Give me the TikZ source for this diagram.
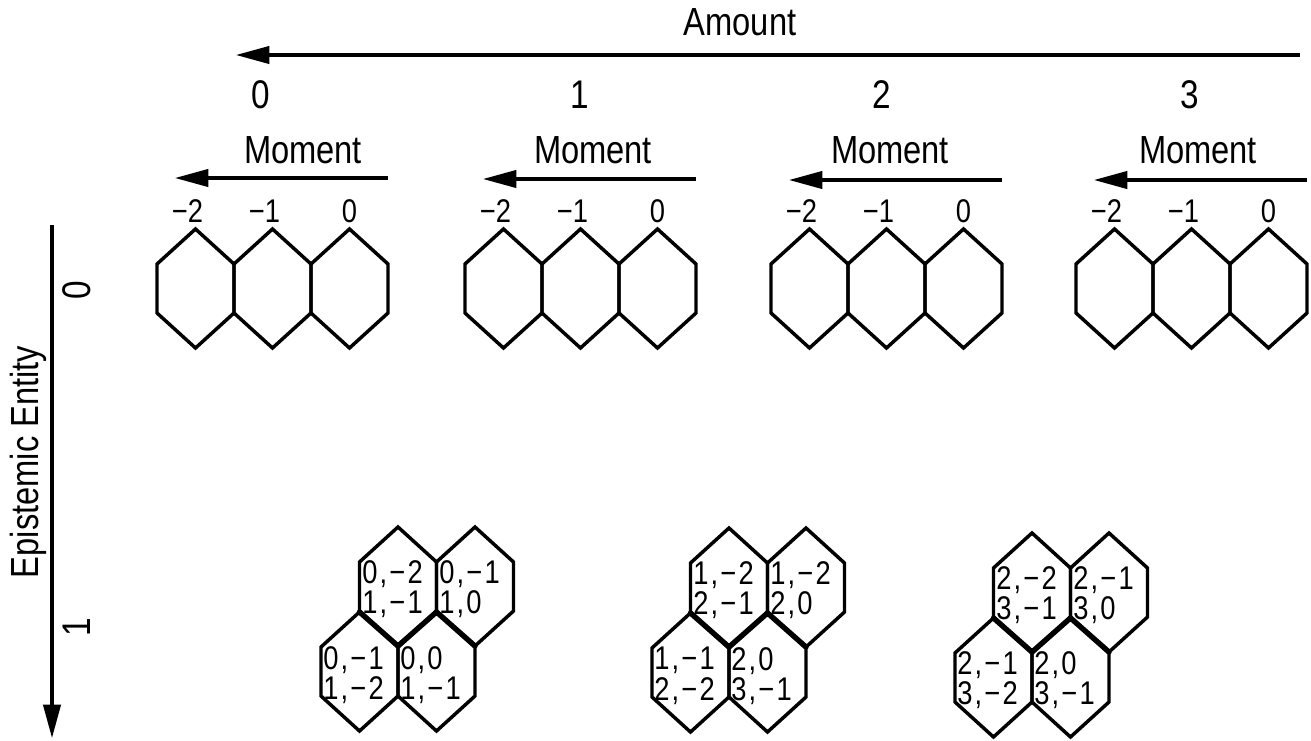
\documentclass[tikz,border=0pt]{standalone}
\usepackage{graphicx}
\usepackage{fontspec}
\setmainfont{Liberation Sans}
\usetikzlibrary{arrows.meta}
\newcommand\tl[1]{\scalebox{1}[1.2]{#1}}
\tikzset{
  hexline/.style={line width=2.6pt, line join=miter},
  thickedge/.style={line width=4pt, line cap=round},
  axisarrow/.style={line width=2.3pt, -{Triangle[length=25pt,width=13pt]}},
  momarrow/.style={line width=2.3pt, -{Triangle[length=25pt,width=13pt]}},
  bigtxt/.style={font=\fontsize{24.5}{26}\selectfont, inner sep=0pt},
  numtxt/.style={font=\fontsize{25}{26}\selectfont, inner sep=0pt},
  ticktxt/.style={font=\fontsize{20.5}{22}\selectfont, inner sep=0pt, anchor=base},
  celltxt/.style={font=\fontsize{20.5}{23}\selectfont\addfontfeature{LetterSpace=8}, inner sep=0pt, align=left, anchor=west},
}
\newcommand\myhex[2]{\draw[hexline] (#1,#2) -- ++(38.5,35) -- ++(0,49) -- ++(-38.5,35) -- ++(-38.5,-35) -- ++(0,-49) -- cycle;}
\newcommand\mygroup[4]{%
  \myhex{#1+38.5}{229}\myhex{#1+115.5}{229}\myhex{#1+192.5}{229}
  \coordinate (ms#4) at (#1+231,#2);
  \coordinate (me#4) at (#1+18,#2);
  \draw[momarrow] (ms#4) -- (me#4);
  \node[bigtxt, anchor=base] (mt#4) at (#3,163) {\tl{Moment}};
  \node[ticktxt] (ta#4) at (#1+38.5,222) {\tl{\llap{−}2}};
  \node[ticktxt] (tb#4) at (#1+115.5,222) {\tl{\llap{−}1}};
  \node[ticktxt] (tc#4) at (#1+192.5,222) {\tl{0}};
}
\newcommand\mycluster[2]{%
  \myhex{#1}{#2}\myhex{#1+77}{#2}\myhex{#1-38.5}{#2+85}\myhex{#1+38.5}{#2+85}
  \draw[thickedge] (#1-38.5,#2+85) -- (#1,#2+119) -- (#1+38.5,#2+85) -- (#1+77,#2+119);
}
\begin{document}
\begin{tikzpicture}[x=0.75pt,y=-0.75pt]
\useasboundingbox (0,0) rectangle (1311,740);
% Amount axis
\coordinate (as) at (1300,55);
\coordinate (ae) at (236,55);
\draw[axisarrow] (as) -- (ae);
\node[bigtxt, anchor=base] (amount) at (740,35) {\tl{Amount}};
\node[numtxt, anchor=base] (a0) at (261,108) {\tl{0}};
\node[numtxt, anchor=base] (a1) at (580,108) {\tl{1}};
\node[numtxt, anchor=base] (a2) at (882,108) {\tl{2}};
\node[numtxt, anchor=base] (a3) at (1190,108) {\tl{3}};
% Epistemic axis
\coordinate (es) at (52,225);
\coordinate (ee) at (52,738);
\draw[axisarrow] (es) -- (ee);
\node[bigtxt, anchor=base, rotate=90] (ep) at (38,462) {\tl{Epistemic Entity}};
\node[numtxt, anchor=base, rotate=90] (e0) at (90,290) {\tl{0}};
\node[numtxt, anchor=base, rotate=90] (e1) at (90,627) {\tl{1}};
% top groups
\mygroup{157}{178}{303}{0}
\mygroup{465}{179}{593}{1}
\mygroup{771}{180}{890}{2}
\mygroup{1076}{180}{1198}{3}
% bottom clusters
\mycluster{398}{527}
\node[celltxt] (c1a) at (362,589) {\tl{0,−2}\\\tl{1,−1}};
\node[celltxt] (c1b) at (439,589) {\tl{0,−1}\\\tl{1,0}};
\node[celltxt] (c1c) at (323,675) {\tl{0,−1}\\\tl{1,−2}};
\node[celltxt] (c1d) at (400,675) {\tl{0,0}\\\tl{1,−1}};
\mycluster{729}{528}
\node[celltxt] (c2a) at (693,590) {\tl{1,−2}\\\tl{2,−1}};
\node[celltxt] (c2b) at (770,590) {\tl{1,−2}\\\tl{2,0}};
\node[celltxt] (c2c) at (654,676) {\tl{1,−1}\\\tl{2,−2}};
\node[celltxt] (c2d) at (731,676) {\tl{2,0}\\\tl{3,−1}};
\mycluster{1032}{533}
\node[celltxt] (c3a) at (996,595) {\tl{2,−2}\\\tl{3,−1}};
\node[celltxt] (c3b) at (1073,595) {\tl{2,−1}\\\tl{3,0}};
\node[celltxt] (c3c) at (957,680) {\tl{2,−1}\\\tl{3,−2}};
\node[celltxt] (c3d) at (1034,680) {\tl{2,0}\\\tl{3,−1}};
\end{tikzpicture}
\end{document}
